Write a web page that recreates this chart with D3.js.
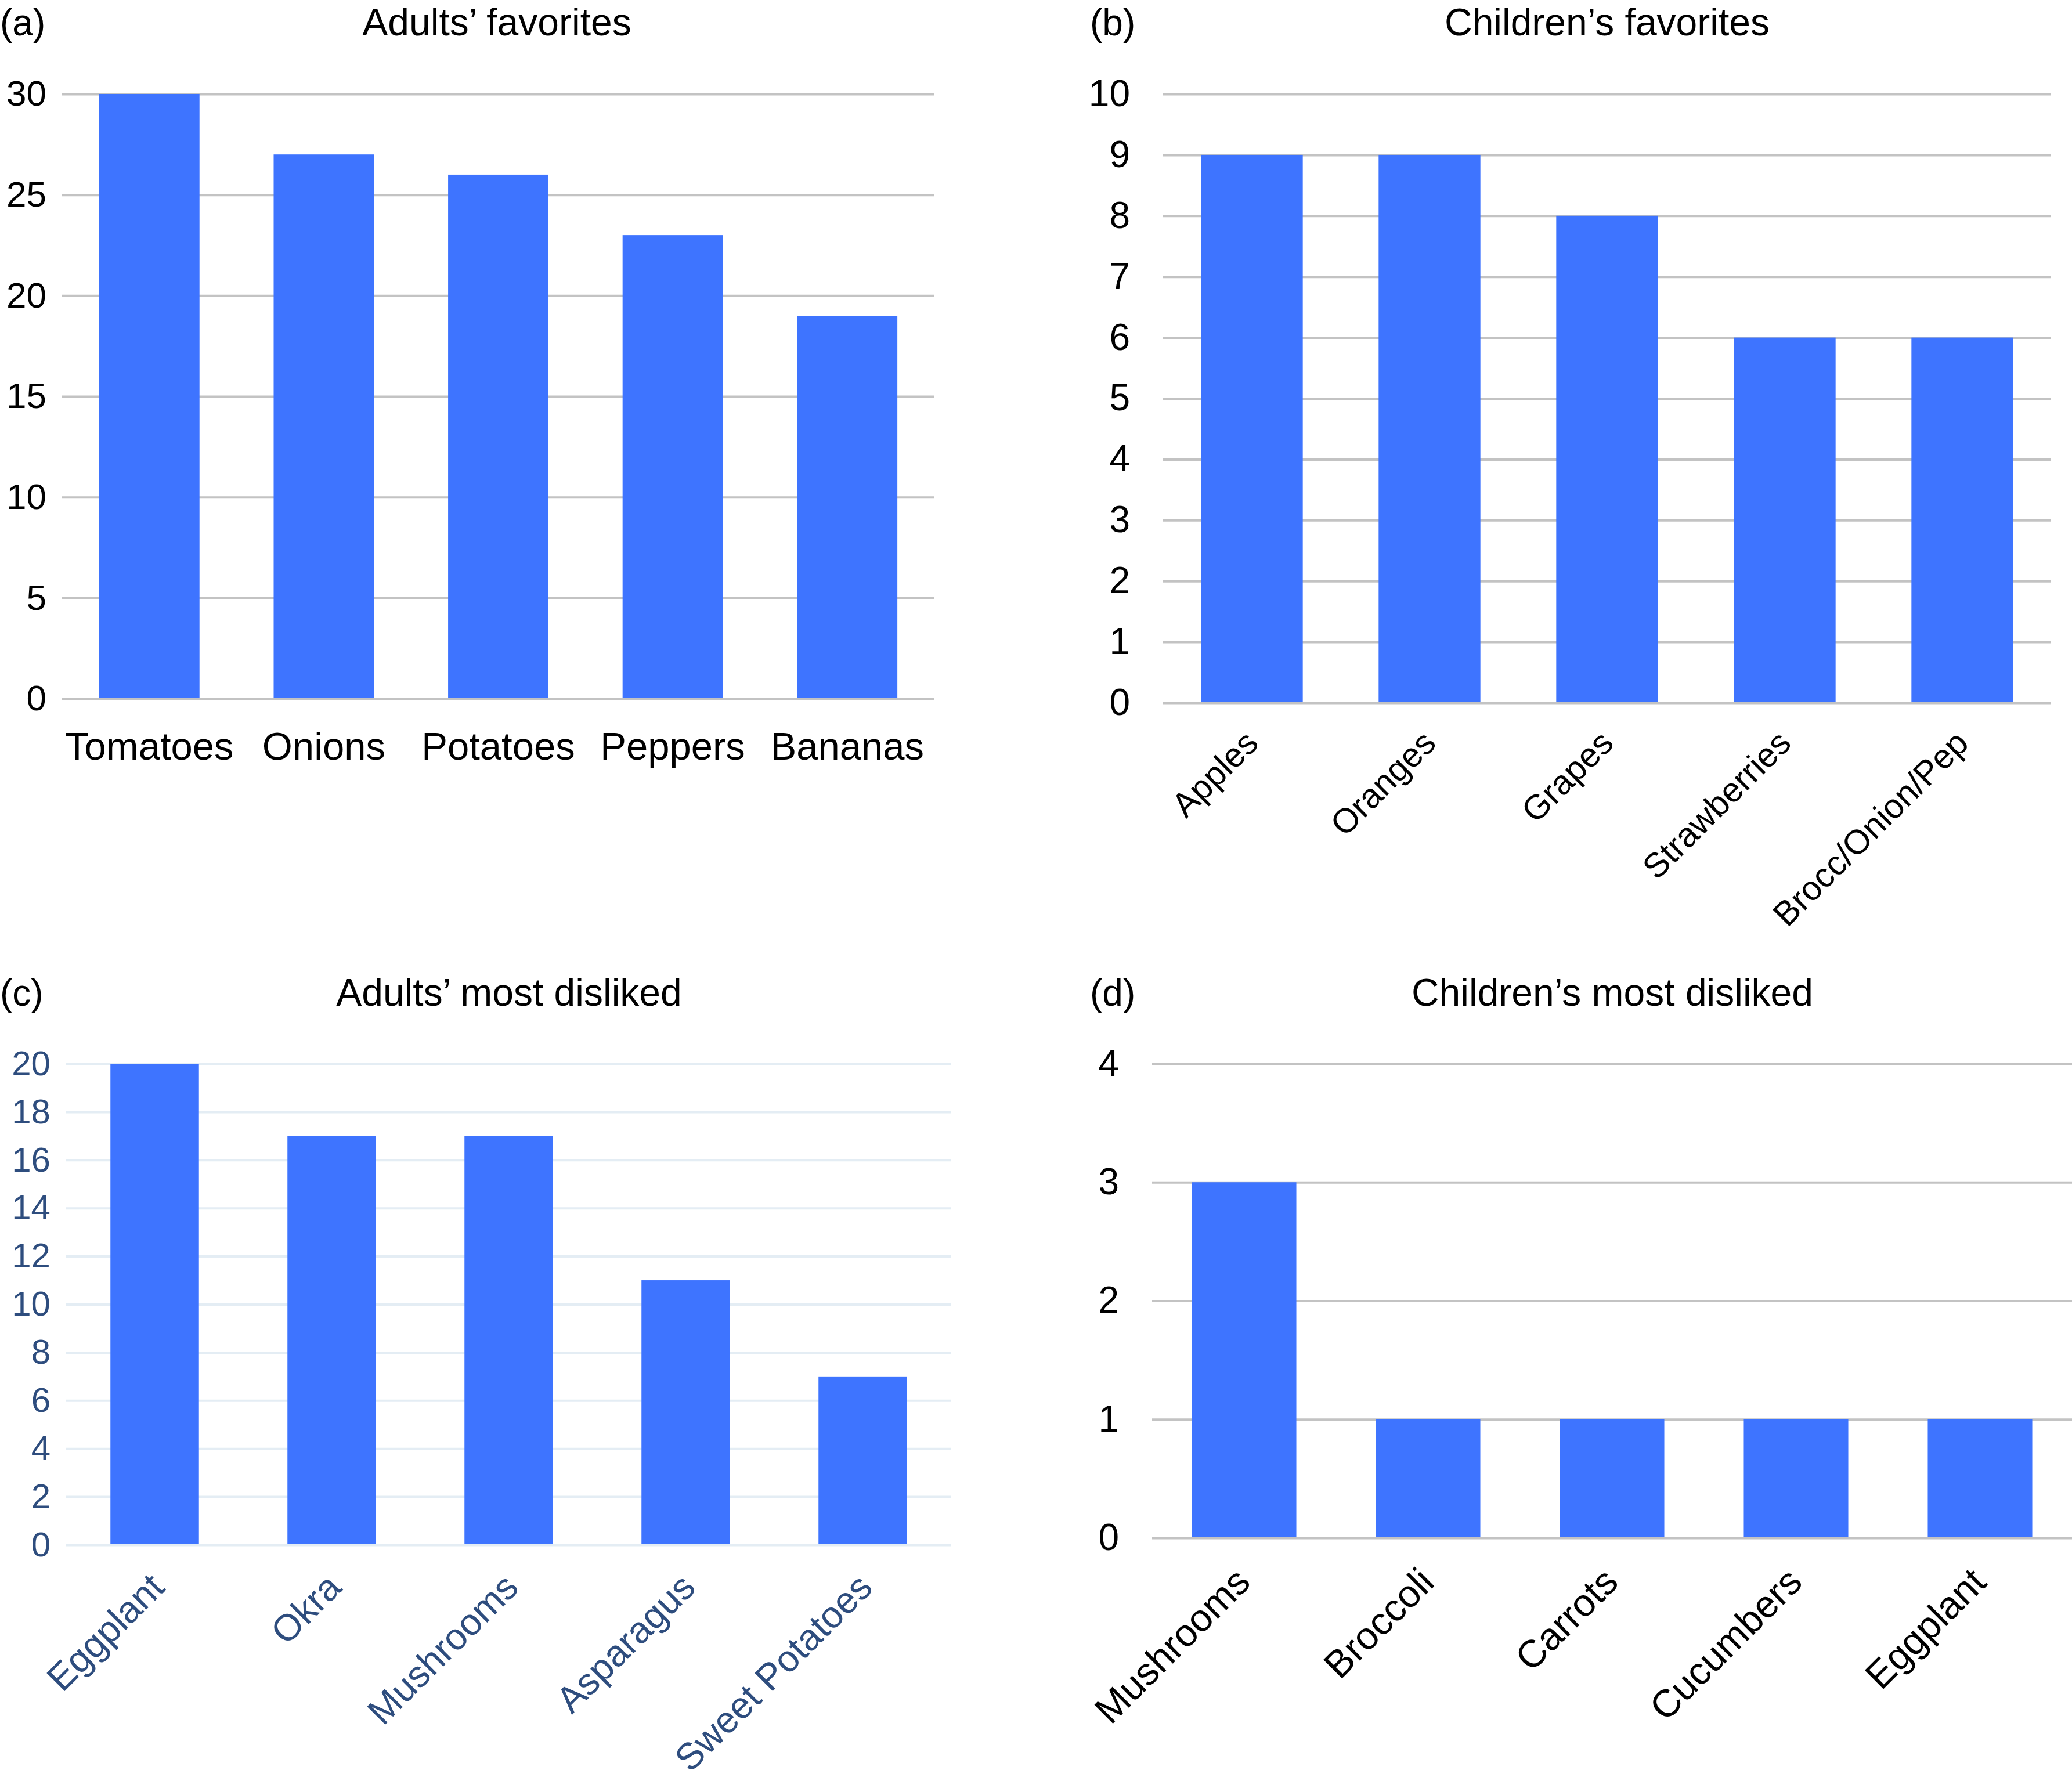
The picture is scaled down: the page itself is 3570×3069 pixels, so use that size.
<!DOCTYPE html>
<html>
<head>
<meta charset="utf-8">
<script src="https://cdn.jsdelivr.net/npm/d3@7"></script>
<style>
  html, body { margin: 0; padding: 0; background: #ffffff; }
  svg { display: block; }
  text { font-family: "Liberation Sans", Arial, Helvetica, sans-serif; }
</style>
</head>
<body>
<script>
// ---------- data ----------
const adultFavCategories = ["Tomatoes", "Onions", "Potatoes", "Peppers", "Bananas"];
const adultFavValues = [30, 27, 26, 23, 19];
const adultFavTicks = [0, 5, 10, 15, 20, 25, 30];

const childFavCategories = ["Apples", "Oranges", "Grapes", "Strawberries", "Brocc/Onion/Pep"];
const childFavValues = [9, 9, 8, 6, 6];
const childFavTicks = [0, 1, 2, 3, 4, 5, 6, 7, 8, 9, 10];

const adultDislikeCategories = ["Eggplant", "Okra", "Mushrooms", "Asparagus", "Sweet Potatoes"];
const adultDislikeValues = [20, 17, 17, 11, 7];
const adultDislikeTicks = [0, 2, 4, 6, 8, 10, 12, 14, 16, 18, 20];

const childDislikeCategories = ["Mushrooms", "Broccoli", "Carrots", "Cucumbers", "Eggplant"];
const childDislikeValues = [3, 1, 1, 1, 1];
const childDislikeTicks = [0, 1, 2, 3, 4];

const panelLetters = ["(a)", "(b)", "(c)", "(d)"];
const panelTitles = ["Adults\u2019 favorites", "Children\u2019s favorites", "Adults\u2019 most disliked", "Children\u2019s most disliked"];

// ---------- layout ----------
const W = 3570, H = 3069;
const BAR = "#3e74ff";

const svg = d3.select("body").append("svg")
  .attr("width", W).attr("height", H)
  .attr("viewBox", `0 0 ${W} ${H}`);

svg.append("rect").attr("width", W).attr("height", H).attr("fill", "#fff");

function drawPanel(cfg) {
  const g = svg.append("g");
  const x = d3.scaleBand()
    .domain(cfg.categories)
    .range([cfg.x0, cfg.x1])
    .paddingInner(1 - cfg.barFrac)
    .paddingOuter((1 - cfg.barFrac) / 2);
  const y = d3.scaleLinear()
    .domain([0, d3.max(cfg.ticks)])
    .range([cfg.yBottom, cfg.yTop]);

  // gridlines (via axis)
  const grid = g.append("g")
    .attr("transform", `translate(${cfg.x0},0)`)
    .call(d3.axisLeft(y).tickValues(cfg.ticks).tickSize(-(cfg.gx1 - cfg.x0)).tickFormat(""));
  grid.select(".domain").remove();
  grid.selectAll(".tick line")
    .attr("stroke", cfg.gridColor)
    .attr("stroke-width", 4);

  // bars
  g.selectAll("rect.bar")
    .data(cfg.values)
    .join("rect")
    .attr("class", "bar")
    .attr("x", (d, i) => x(cfg.categories[i]))
    .attr("width", x.bandwidth())
    .attr("y", d => y(d))
    .attr("height", d => y(0) - y(d) - 2)
    .attr("fill", BAR);

  // zero line on top
  g.append("line")
    .attr("x1", cfg.x0).attr("x2", cfg.gx1)
    .attr("y1", y(0)).attr("y2", y(0))
    .attr("stroke", cfg.gridColor)
    .attr("stroke-width", 4);

  // y tick labels
  const yAxis = g.append("g")
    .attr("transform", `translate(${cfg.tickRight},0)`)
    .call(d3.axisLeft(y).tickValues(cfg.ticks).tickSize(0).tickPadding(0).tickFormat(d3.format("d")));
  yAxis.select(".domain").remove();
  yAxis.selectAll("text")
    .attr("font-size", cfg.tickFont)
    .attr("fill", cfg.textColor)
    .attr("font-family", "Liberation Sans, Arial, sans-serif");

  // x labels
  const xAxis = g.append("g")
    .attr("transform", `translate(0,${y(0)})`)
    .call(d3.axisBottom(x).tickSize(0).tickPadding(0));
  xAxis.select(".domain").remove();
  const xt = xAxis.selectAll("text")
    .attr("font-size", cfg.labelFont)
    .attr("fill", cfg.textColor)
    .attr("font-family", "Liberation Sans, Arial, sans-serif");
  if (cfg.rotate) {
    xt.attr("text-anchor", "end")
      .attr("dy", null)
      .attr("y", 0)
      .attr("transform", `translate(${cfg.labelDx},${cfg.labelDy}) rotate(-45)`);
  } else {
    xt.attr("dy", null).attr("y", cfg.labelDy);
  }

  // panel letter and title
  g.append("text")
    .attr("x", cfg.letterX).attr("y", cfg.titleY)
    .attr("font-size", 64)
    .attr("fill", "#000")
    .text(cfg.letter);
  g.append("text")
    .attr("x", cfg.titleX).attr("y", cfg.titleY)
    .attr("text-anchor", "middle")
    .attr("font-size", 66)
    .attr("fill", "#000")
    .text(cfg.title);
}

drawPanel({
  categories: adultFavCategories, values: adultFavValues, ticks: adultFavTicks,
  x0: 107, x1: 1610, gx1: 1610, yTop: 162, yBottom: 1204, barFrac: 0.575,
  tickRight: 80, tickFont: 62, labelFont: 67, textColor: "#000", gridColor: "#c3c3c3",
  rotate: false, labelDy: 105,
  letter: panelLetters[0], letterX: 0, title: panelTitles[0], titleX: 856, titleY: 61
});

drawPanel({
  categories: childFavCategories, values: childFavValues, ticks: childFavTicks,
  x0: 2004, x1: 3534, gx1: 3534, yTop: 162, yBottom: 1211, barFrac: 0.573,
  tickRight: 1947, tickFont: 64, labelFont: 59, textColor: "#000", gridColor: "#c3c3c3",
  rotate: true, labelDx: 14, labelDy: 73,
  letter: panelLetters[1], letterX: 1878, title: panelTitles[1], titleX: 2769, titleY: 61
});

drawPanel({
  categories: adultDislikeCategories, values: adultDislikeValues, ticks: adultDislikeTicks,
  x0: 114, x1: 1639, gx1: 1639, yTop: 1833, yBottom: 2662, barFrac: 0.5,
  tickRight: 87, tickFont: 60, labelFont: 64, textColor: "#2e4d7e", gridColor: "#e4edf4",
  rotate: true, labelDx: 20, labelDy: 77,
  letter: panelLetters[2], letterX: 0, title: panelTitles[2], titleX: 877, titleY: 1733
});

drawPanel({
  categories: childDislikeCategories, values: childDislikeValues, ticks: childDislikeTicks,
  x0: 1985, x1: 3570, gx1: 3570, yTop: 1833, yBottom: 2650, barFrac: 0.568,
  tickRight: 1928, tickFont: 64, labelFont: 66, textColor: "#000", gridColor: "#c3c3c3",
  rotate: true, labelDx: 14, labelDy: 80,
  letter: panelLetters[3], letterX: 1878, title: panelTitles[3], titleX: 2778, titleY: 1733
});
</script>
</body>
</html>
